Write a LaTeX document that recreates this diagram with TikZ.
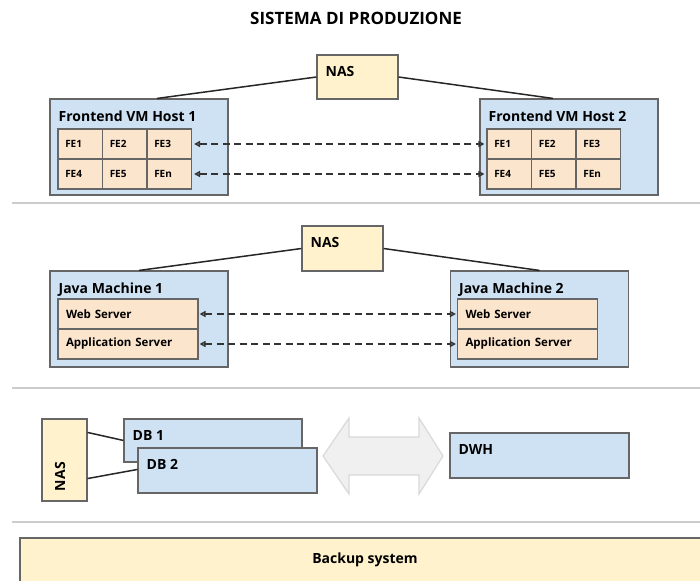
\documentclass[tikz,border=0pt]{standalone}
\usepackage{fontspec}
\setmainfont{Open Sans}
\usetikzlibrary{arrows.meta}
\definecolor{hostblue}{HTML}{CFE2F3}
\definecolor{cellorange}{HTML}{FCE5CD}
\definecolor{nasyellow}{HTML}{FFF2CC}
\definecolor{boxline}{HTML}{666666}
\definecolor{sepgray}{HTML}{CCCCCC}

\begin{document}
\begin{tikzpicture}[x=1pt,y=-1pt,
  every node/.style={font=\bfseries},
  box/.style={draw=boxline, line width=1.1pt, inner sep=0pt},
  host/.style={box, fill=hostblue, minimum width=178pt, minimum height=96pt},
  nas/.style={box, fill=nasyellow, minimum width=81pt, minimum height=44pt},
  cell/.style={box, fill=cellorange, minimum width=44.5pt, minimum height=30pt,
    text width=30pt, align=left, font=\bfseries\fontsize{10}{12}\selectfont},
  srv/.style={box, fill=cellorange, minimum width=140pt, minimum height=30pt,
    text width=124pt, align=left, font=\bfseries\fontsize{11.5}{13}\selectfont},
  db/.style={box, fill=hostblue, minimum width=179pt, minimum height=44pt},
  title/.style={label={[anchor=north west, inner sep=0pt, xshift=9pt, yshift=-12pt,
    font=\bfseries\fontsize{14}{16}\selectfont]north west:#1}},
  link/.style={draw=black!85, line width=1.5pt},
  sync/.style={draw=black!80, line width=1.5pt, dash pattern=on 7pt off 4.5pt,
    {Triangle[open,length=6pt,width=6pt]}-{Triangle[open,length=6pt,width=6pt]}},
  sep/.style={draw=sepgray, line width=1.6pt}]
\useasboundingbox (0,0) rectangle (700,580);

\node[font=\bfseries\fontsize{17}{20}\selectfont] (title) at (356,18) {SISTEMA DI PRODUZIONE};

\node[nas, title=NAS] (nas1) at (357.5,77) {};
\node[host, title=Frontend VM Host 1] (host1) at (139,147) {};
\node[host, title=Frontend VM Host 2] (host2) at (569,147) {};
\foreach \h/\x in {1/58,2/487}
  \foreach \lab [count=\i from 0] in {FE1,FE2,FE3,FE4,FE5,FEn} {
    \pgfmathtruncatemacro\c{mod(\i,3)}
    \pgfmathtruncatemacro\r{div(\i,3)}
    \node[cell] (h\h\lab) at (\x+22.25+44.5*\c,144+30*\r) {\lab};
  }
\draw[link] (nas1.west) -- ([xshift=18pt]host1.north);
\draw[link] (nas1.east) -- ([xshift=-16pt]host2.north);
\draw[sync] ([xshift=2pt]h1FE3.east) -- ([xshift=-2pt]h2FE1.west);
\draw[sync] ([xshift=2pt]h1FEn.east) -- ([xshift=-2pt]h2FE4.west);

\draw[sep] (12,203) -- (710,203);

\node[nas, minimum height=45pt, title=NAS] (nas2) at (342.5,248.5) {};
\node[host, title=Java Machine 1] (java1) at (139,319) {};
\node[host, title=Java Machine 2] (java2) at (539.5,319) {};
\node[srv] (web1) at (128,314) {Web Server};
\node[srv] (app1) at (128,344) {Application Server};
\node[srv] (web2) at (527.5,314) {Web Server};
\node[srv] (app2) at (527.5,344) {Application Server};
\draw[link] (nas2.west) -- (java1.north);
\draw[link] (nas2.east) -- (java2.north);
\draw[sync] ([xshift=1pt]web1.east) -- ([xshift=-1pt]web2.west);
\draw[sync] ([xshift=1pt]app1.east) -- ([xshift=-1pt]app2.west);

\draw[sep] (12,388) -- (710,388);

\node[nas, rotate=90, minimum width=82pt, minimum height=45pt, text width=62pt,
  align=left, text depth=9pt, font=\bfseries\fontsize{14}{16}\selectfont] (nasdb) at (64.5,460) {NAS};
\node[db, minimum width=178pt, minimum height=43pt, title=DB 1] (db1) at (213,440.5) {};
\node[db, minimum height=45pt, title=DB 2] (db2) at (227.5,470.5) {};
\node[db, minimum height=45pt, title=DWH] (dwh) at (539.5,455.5) {};
\draw[link] ([yshift=-14pt]nasdb.south east) -- ([yshift=-22pt]db1.north west);
\draw[link] ([yshift=23pt]nasdb.south west) -- ([yshift=-22pt]db2.north west);
\draw[fill=black!6, draw=black!15, line width=1.2pt]
  (323,456) -- (349,418) -- (349,437) -- (419,437) -- (419,418) -- (443,456)
  -- (419,494) -- (419,475) -- (349,475) -- (349,494) -- cycle;

\draw[sep] (12,522) -- (710,522);

\node[box, fill=nasyellow, minimum width=690pt, minimum height=44pt,
  font=\bfseries\fontsize{14}{16}\selectfont] (backup) at (365,560) {Backup system};
\end{tikzpicture}
\end{document}
